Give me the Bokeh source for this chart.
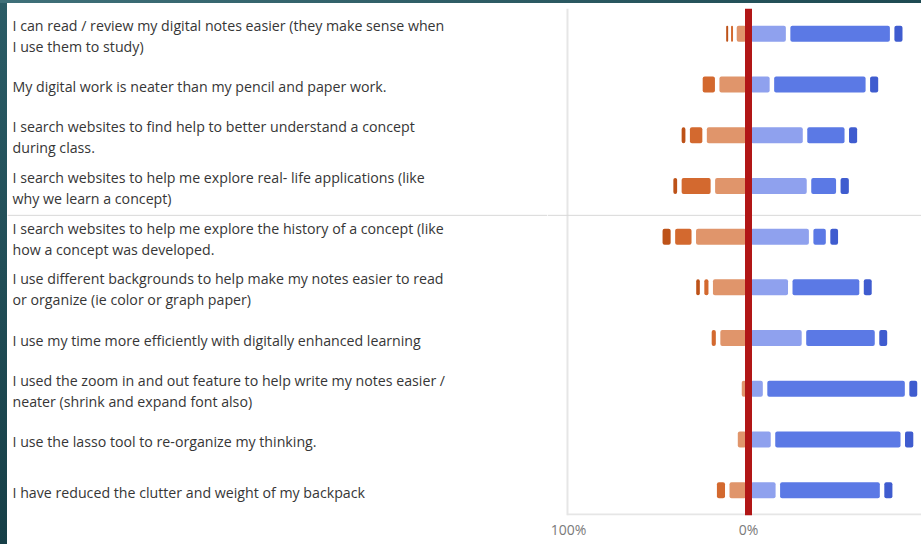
from bokeh.plotting import figure
from bokeh.models import Range1d, FactorRange, Span, FixedTicker, ColumnDataSource, BoxAnnotation, Div
from bokeh.layouts import row, column
from bokeh.core.properties import value
from bokeh.embed import file_html
from bokeh.resources import INLINE

# ---------------- data ----------------
categories = [
    "I can read / review my digital notes easier (they make sense when\nI use them to study)",
    "My digital work is neater than my pencil and paper work.",
    "I search websites to find help to better understand a concept\nduring class.",
    "I search websites to help me explore real- life applications (like\nwhy we learn a concept)",
    "I search websites to help me explore the history of a concept (like\nhow a concept was developed.",
    "I use different backgrounds to help make my notes easier to read\nor organize (ie color or graph paper)",
    "I use my time more efficiently with digitally enhanced learning",
    "I used the zoom in and out feature to help write my notes easier /\nneater (shrink and expand font also)",
    "I use the lasso tool to re-organize my thinking.",
    "I have reduced the  clutter and weight of my backpack",
]
# percentages per answer level (left side: disagree levels, right side: agree levels)
strongly_disagree = [2.7, 0.0, 4.6, 4.6, 7.0, 4.5, 0.0, 0.0, 0.0, 0.0]
disagree          = [2.7, 9.3, 9.4, 18.6, 11.6, 4.8, 4.8, 0.0, 0.0, 7.0]
slightly_disagree = [7.8, 17.4, 24.4, 19.8, 30.4, 21.0, 16.9, 5.0, 7.2, 11.8]
slightly_agree    = [22.0, 13.0, 31.4, 33.6, 34.8, 23.2, 30.8, 9.2, 13.6, 16.3]
agree             = [57.8, 53.3, 23.2, 16.3, 9.4, 39.6, 40.6, 78.9, 72.1, 57.9]
strongly_agree    = [7.0, 7.0, 7.0, 7.1, 6.8, 6.9, 6.9, 6.9, 7.1, 7.0]

tick_values = [-100, 0, 100]
tick_labels = ["100%", "0%", "100%"]

# ---------------- styles ----------------
colors = {
    "sd": "#BD5218", "d": "#D3692F", "sld": "#E0956B",
    "sla": "#8FA1EE", "a": "#5B79E5", "sa": "#3F5CCF",
}
FONT = "Open Sans"
GAP = 2.5       # white gap between segments, in % units
MINW = 1.1      # minimum visible width of a tiny segment
BAR_H = 0.316
FRAME_GREY = "#e6e6e6"

H = 541
TOP, BOTTOM = 5, 29
W_STRIP, W_LEFT, W_RIGHT = 7, 540, 374

y_range = FactorRange(factors=list(reversed(categories)))

# ---------------- label column ----------------
pl = figure(width=W_LEFT, height=H, x_range=Range1d(0, W_LEFT), y_range=y_range,
            x_axis_type=None, y_axis_type=None, title=None,
            toolbar_location=None, output_backend="svg",
            min_border_left=0, min_border_right=0, min_border_top=TOP, min_border_bottom=BOTTOM)
pl.outline_line_color = None
pl.grid.visible = False
pl.text(x=[5] * len(categories), y=categories, text=categories,
        text_font=value(FONT), text_font_size="14.2px", text_color="#363636",
        text_align="left", text_baseline="middle", text_line_height=1.1, y_offset=2)

# ---------------- bar chart ----------------
p = figure(width=W_RIGHT, height=H, x_range=Range1d(-111.67, 96.11), y_range=y_range,
           y_axis_type=None, title=None, toolbar_location=None, output_backend="svg",
           min_border_left=0, min_border_right=0, min_border_top=TOP, min_border_bottom=BOTTOM)
p.outline_line_color = None
p.grid.visible = False


def segments(starts, ends, color):
    ys, ls, rs = [], [], []
    for cat, s, e in zip(categories, starts, ends):
        if abs(e - s) <= 0:
            continue
        lo, hi = min(s, e), max(s, e)
        l, r = lo + GAP / 2, hi - GAP / 2
        if r - l < MINW:
            c = (lo + hi) / 2
            l, r = c - MINW / 2, c + MINW / 2
        ys.append(cat); ls.append(l); rs.append(r)
    src = ColumnDataSource(dict(y=ys, left=ls, right=rs))
    p.hbar(y="y", left="left", right="right", height=BAR_H, source=src,
           fill_color=color, line_color=None, border_radius=2)


# left side
sld_end = [-v for v in slightly_disagree]
d_end = [a - b for a, b in zip(sld_end, disagree)]
sd_end = [a - b for a, b in zip(d_end, strongly_disagree)]
segments([0] * 10, sld_end, colors["sld"])
segments(sld_end, d_end, colors["d"])
segments(d_end, sd_end, colors["sd"])
# right side
sla_end = list(slightly_agree)
a_end = [a + b for a, b in zip(sla_end, agree)]
sa_end = [a + b for a, b in zip(a_end, strongly_agree)]
segments([0] * 10, sla_end, colors["sla"])
segments(sla_end, a_end, colors["a"])
segments(a_end, sa_end, colors["sa"])

# x axis (labels only; the frame lines are drawn separately)
p.xaxis.ticker = FixedTicker(ticks=tick_values)
p.xaxis.major_label_overrides = {v: t for v, t in zip(tick_values, tick_labels)}
p.xaxis.major_tick_in = 0
p.xaxis.major_tick_out = 0
p.xaxis.minor_tick_line_color = None
p.xaxis.major_label_standoff = 4
p.xaxis.major_label_text_font = FONT
p.xaxis.major_label_text_font_size = "14px"
p.xaxis.major_label_text_color = "#7a7a7a"
p.xaxis.axis_line_color = None

# chart frame: left and bottom borders starting at -100%
FRAME_LEFT = -100.56
p.add_layout(Span(location=FRAME_LEFT, dimension="height", line_color=FRAME_GREY, line_width=2))
p.add_layout(BoxAnnotation(left=FRAME_LEFT, top=0.04, fill_color=FRAME_GREY, fill_alpha=1,
                           line_color=None))

# separator line across both panels
sep = 6 - 0.08
for fig in (pl, p):
    fig.add_layout(Span(location=sep, dimension="width", line_color="#d9d9d9", line_width=1))

# red zero line
p.add_layout(Span(location=0, dimension="height", line_color="#B11616", line_width=7))

# dark slide edges of the screenshot
top_strip = Div(text="", width=W_STRIP + W_LEFT + W_RIGHT, height=544 - H, margin=0,
                styles={"background": "linear-gradient(to right, #3f7079, #1e4a52)"})
left_strip = Div(text="", width=W_STRIP, height=H, margin=0,
                 styles={"background": "linear-gradient(#2b5c66, #163f47)"})

layout = column(top_strip, row(left_strip, pl, p, spacing=0), spacing=0)
open("out.html", "w").write(file_html(layout, INLINE))
